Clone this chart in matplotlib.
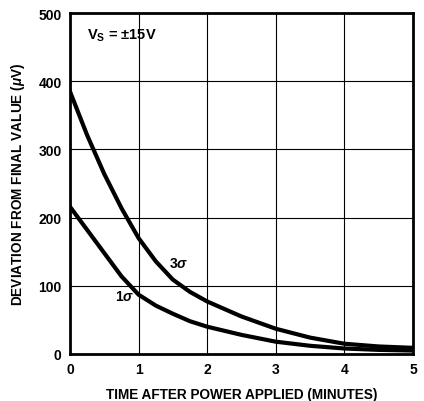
import numpy as np
import matplotlib.pyplot as plt

plt.rcParams['font.family'] = ['Liberation Sans', 'DejaVu Sans']
plt.rcParams['mathtext.fontset'] = 'custom'
plt.rcParams['mathtext.rm'] = 'Liberation Sans:bold'
plt.rcParams['mathtext.it'] = 'Liberation Sans:italic:bold'
plt.rcParams['mathtext.bf'] = 'Liberation Sans:bold'

t3 = [0, 0.25, 0.5, 0.75, 1, 1.25, 1.5, 1.75, 2, 2.5, 3, 3.5, 4, 4.5, 5]
dev3 = [385, 321, 264, 214, 170, 136, 109, 91, 77, 55, 37, 24, 15, 11, 9]
t1 = [0, 0.25, 0.5, 0.75, 1, 1.25, 1.5, 1.75, 2, 2.5, 3, 3.5, 4, 4.5, 5]
dev1 = [216, 182, 148, 114, 87, 71, 59, 48, 40, 28, 18, 12, 8, 6, 5]

xticks = [0, 1, 2, 3, 4, 5]
yticks = [0, 100, 200, 300, 400, 500]

fig = plt.figure(figsize=(4.24, 4.02), dpi=100)
ax = fig.add_axes([0.165, 0.117, 0.809, 0.848])

ax.plot(t3, dev3, color='black', lw=3, solid_joinstyle='round')
ax.plot(t1, dev1, color='black', lw=3, solid_joinstyle='round')

ax.set_xlim(0, 5)
ax.set_ylim(0, 500)
ax.set_xticks(xticks)
ax.set_yticks(yticks)
ax.grid(True, color='black', lw=0.8)
ax.tick_params(length=0, labelsize=10, pad=6)
for lab in ax.get_xticklabels() + ax.get_yticklabels():
    lab.set_fontweight('bold')
for s in ax.spines.values():
    s.set_linewidth(2)

ax.set_xlabel('TIME AFTER POWER APPLIED (MINUTES)', fontsize=9.8, fontweight='bold', labelpad=7.5)
ax.set_ylabel(r'DEVIATION FROM FINAL VALUE ($\mathit{\mu}$V)', fontsize=9.8, fontweight='bold', labelpad=8)

ax.text(0.25, 468, r'V$_\mathregular{S}$ = $\pm$15V', fontsize=10.5, fontweight='bold', va='center')
ax.text(1.45, 133, r'3$\mathit{\sigma}$', fontsize=10, fontweight='bold', va='center')
ax.text(0.65, 85, r'1$\mathit{\sigma}$', fontsize=10, fontweight='bold', va='center')

fig.savefig('out.png', dpi=100)
